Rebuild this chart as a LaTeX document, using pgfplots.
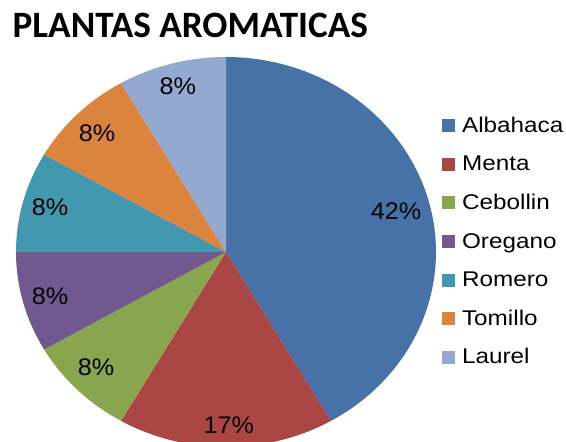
\documentclass[border=0pt]{standalone}
\usepackage{pgfplots}
\pgfplotsset{compat=1.18}
\usepackage{pgfplotstable}
\usepackage{fontspec}
\setmainfont{Liberation Sans}
\newfontfamily\titlefont{Carlito}
\newfontfamily\legfont[FakeStretch=1.14]{Liberation Sans}
\newfontfamily\lblfont[FakeStretch=1.05]{Liberation Sans}

\definecolor{cAlb}{HTML}{4672A8}
\definecolor{cMen}{HTML}{AA4643}
\definecolor{cCeb}{HTML}{89A54E}
\definecolor{cOre}{HTML}{71588F}
\definecolor{cRom}{HTML}{4198AF}
\definecolor{cTom}{HTML}{DB843D}
\definecolor{cLau}{HTML}{93A9CF}

\pgfplotstableread{
name value col
Albahaca 5 cAlb
Menta 2 cMen
Cebollin 1 cCeb
Oregano 1 cOre
Romero 1 cRom
Tomillo 1 cTom
Laurel 1 cLau
}\datatable

\begin{document}
\begin{tikzpicture}
\clip (0,0) rectangle (566pt,442pt);
\useasboundingbox (0,0) rectangle (566pt,442pt);
\node[anchor=base west, inner sep=0pt, font=\titlefont\bfseries\fontsize{37.2}{40}\selectfont] at (12.5pt,404pt) {PLANTAS AROMATICAS};
\begin{axis}[
  scale only axis, width=420pt, height=390pt,
  at={(226pt,190pt)}, anchor=center,
  xmin=-1, xmax=1, ymin=-1, ymax=1,
  hide axis, clip=false,
  legend cell align=left,
  legend image code/.code={\fill[#1] (0pt,0pt) rectangle (13pt,13pt);},
  legend style={draw=none, fill=none, font=\legfont\fontsize{21.3}{24}\selectfont,
    at={(1.014,0.846)}, anchor=north west, inner sep=0pt,
    row sep=18.6pt, column sep=7pt,
    cells={anchor=base west},
    nodes={inner sep=0pt, text height=15pt, text depth=5pt}},
]
\def\total{0}
\pgfplotsforeachungrouped \i in {0,...,6}{%
  \pgfplotstablegetelem{\i}{value}\of\datatable
  \pgfmathsetmacro\total{\total+\pgfplotsretval}%
}
\def\cum{0}
\pgfplotsforeachungrouped \i in {0,...,6}{%
  \pgfplotstablegetelem{\i}{value}\of\datatable \let\v\pgfplotsretval
  \pgfplotstablegetelem{\i}{col}\of\datatable \let\c\pgfplotsretval
  \pgfplotstablegetelem{\i}{name}\of\datatable \let\n\pgfplotsretval
  \pgfmathsetmacro\a{90-360*\cum/\total}%
  \pgfmathsetmacro\b{90-360*(\cum+\v)/\total}%
  \pgfmathsetmacro\cum{\cum+\v}%
  \edef\temp{\noexpand\addplot[fill=\c, draw=none, domain=\b:\a, samples=90]
     ({cos(x)},{sin(x)}) -- (axis cs:0,0) -- cycle;
     \noexpand\addlegendentry{\n}}%
  \temp
}
\begin{scope}[every node/.style={font=\lblfont\fontsize{24}{26}\selectfont, inner sep=0pt}]
\node at (axis cs:0.810,0.210) {42\%};
\node at (axis cs:0.014,-0.887) {17\%};
\node at (axis cs:-0.619,-0.590) {8\%};
\node at (axis cs:-0.838,-0.226) {8\%};
\node at (axis cs:-0.838,0.231) {8\%};
\node at (axis cs:-0.614,0.610) {8\%};
\node at (axis cs:-0.229,0.851) {8\%};
\end{scope}
\end{axis}
\end{tikzpicture}
\end{document}
